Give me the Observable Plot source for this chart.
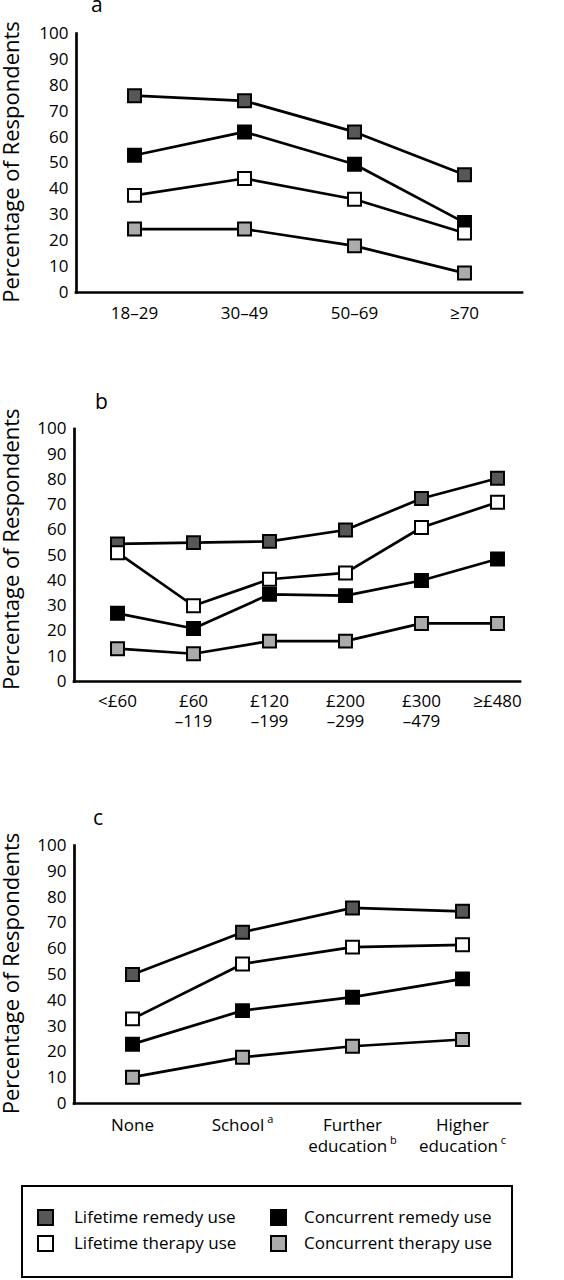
<!DOCTYPE html>
<html><head><meta charset="utf-8">
<script src="https://cdn.jsdelivr.net/npm/d3@7"></script>
<script src="https://cdn.jsdelivr.net/npm/@observablehq/plot@0.6"></script>
<style>
body{margin:0;background:#fff;font-family:"Open Sans",sans-serif;color:#000;}
#root{position:relative;width:564px;height:1280px;overflow:hidden;background:#fff;}
.panel{position:absolute;left:0;}
.letter{position:absolute;font-size:21px;line-height:21px;}
#legend{position:absolute;left:21px;top:1185px;width:488px;height:89px;border:2px solid #000;}
.item{position:absolute;font-size:17px;line-height:17px;white-space:nowrap;}
.sw{position:absolute;width:13px;height:13px;border:2px solid #000;}
</style></head><body><div id="root"></div>
<script>
// ---- data ----
const seriesNames = ["Lifetime remedy use", "Concurrent remedy use", "Lifetime therapy use", "Concurrent therapy use"];
const seriesColors = ["#575757", "#000000", "#ffffff", "#ababab"];

// panel a: age
const ageGroups = ["18–29", "30–49", "50–69", "≥70"];
const ageLifetimeRemedy = [76, 74, 62, 45.5];
const ageConcurrentRemedy = [53, 62, 49.5, 27];
const ageLifetimeTherapy = [37.5, 44, 36, 23];
const ageConcurrentTherapy = [24.5, 24.5, 18, 7.5];

// panel b: income
const incomeGroups = ["<£60", "£60\n–119", "£120\n–199", "£200\n–299", "£300\n–479", "≥£480"];
const incLifetimeRemedy = [54.5, 55, 55.5, 60, 72.5, 80.5];
const incConcurrentRemedy = [27, 21, 34.5, 34, 40, 48.5];
const incLifetimeTherapy = [51, 30, 40.5, 43, 61, 71];
const incConcurrentTherapy = [13, 11, 16, 16, 23, 23];

// panel c: education
const eduGroups = ["None", "School^a", "Further\neducation^b", "Higher\neducation^c"];
const eduLifetimeRemedy = [50, 66.4, 75.8, 74.5];
const eduConcurrentRemedy = [23, 36, 41.2, 48.3];
const eduLifetimeTherapy = [32.8, 54.1, 60.6, 61.5];
const eduConcurrentTherapy = [10.2, 17.9, 22.2, 24.8];

const yTicks = [0, 10, 20, 30, 40, 50, 60, 70, 80, 90, 100];
const yLabel = "Percentage of Respondents";

const root = document.getElementById("root");
const ns = "http://www.w3.org/2000/svg";

function panel(cats, series, o) {
  const rows = [];
  series.forEach((vals, s) => vals.forEach((v, i) => rows.push({cat: cats[i], series: seriesNames[s], value: v})));
  const plot = Plot.plot({
    width: 564, height: o.height,
    marginTop: o.marginTop, marginBottom: o.marginBottom,
    marginLeft: o.marginLeft, marginRight: o.marginRight,
    style: {fontFamily: '"Open Sans", sans-serif', fontSize: "17px", color: "#000", background: "transparent", overflow: "visible"},
    x: {type: "point", domain: cats, range: o.xRange, padding: 0},
    y: {domain: [0, 100]},
    color: {domain: seriesNames, range: seriesColors},
    marks: [
      Plot.axisY({ticks: yTicks, tickSize: 0, tickPadding: 8, label: null, fontSize: 17}),
      Plot.axisX({tickSize: 0, tickPadding: 12, label: null, fontSize: 17, lineHeight: o.lineHeight}),
      Plot.text([yLabel], {text: d => d, frameAnchor: "left", textAnchor: "middle", lineAnchor: "middle", rotate: -90, dx: 11.5 - o.marginLeft, dy: o.labelDy, fontSize: 22}),
      Plot.ruleY([0], {strokeWidth: 2.7, strokeLinecap: "square"}),
      Plot.frame({anchor: "left", strokeWidth: 2.7, strokeLinecap: "square"}),
      Plot.line(rows, {x: "cat", y: "value", z: "series", stroke: "#000", strokeWidth: 2.7}),
      Plot.dot(rows, {x: "cat", y: "value", symbol: "square", r: 7.3, fill: "series", stroke: "#000", strokeWidth: 2})
    ]
  });
  // superscripts
  plot.querySelectorAll("text, tspan").forEach(el => {
    if (el.children.length === 0 && el.textContent.includes("^")) {
      const [base, sup] = el.textContent.split("^");
      el.textContent = base;
      const t = document.createElementNS(ns, "tspan");
      t.setAttribute("dy", "-0.7em");
      t.setAttribute("dx", "3");
      t.setAttribute("font-size", "11");
      t.textContent = sup;
      el.appendChild(t);
    }
  });
  const div = document.createElement("div");
  div.className = "panel";
  div.style.top = o.top + "px";
  div.appendChild(plot);
  root.appendChild(div);
}

panel(ageGroups, [ageLifetimeRemedy, ageConcurrentRemedy, ageLifetimeTherapy, ageConcurrentTherapy],
  {top: 0, height: 340, marginTop: 33, marginBottom: 48, marginLeft: 76, marginRight: 42, xRange: [133, 464], lineHeight: 1.2, labelDy: -1});
panel(incomeGroups, [incLifetimeRemedy, incConcurrentRemedy, incLifetimeTherapy, incConcurrentTherapy],
  {top: 330, height: 420, marginTop: 98.5, marginBottom: 69, marginLeft: 74, marginRight: 44, xRange: [116.7, 497.3], lineHeight: 1.15, labelDy: -6});
panel(eduGroups, [eduLifetimeRemedy, eduConcurrentRemedy, eduLifetimeTherapy, eduConcurrentTherapy],
  {top: 790, height: 370, marginTop: 55, marginBottom: 57, marginLeft: 74, marginRight: 44, xRange: [131.7, 462.7], lineHeight: 1.25, labelDy: -1});

// panel letters
const letters = [["a", 91, -6], ["b", 95, 391], ["c", 93, 807]];
letters.forEach(([t, x, y]) => {
  const d = document.createElement("div");
  d.className = "letter"; d.textContent = t;
  d.style.left = x + "px"; d.style.top = y + "px";
  root.appendChild(d);
});

// legend
const legend = document.createElement("div");
legend.id = "legend";
root.appendChild(legend);
const legendOrder = [0, 2, 1, 3];
legendOrder.forEach((s, k) => {
  const col = Math.floor(k / 2), row = k % 2;
  const sx = col === 0 ? 14 : 247, tx = col === 0 ? 51 : 281;
  const y = row === 0 ? 22 : 48;
  const sw = document.createElement("div");
  sw.className = "sw";
  sw.style.left = sx + "px"; sw.style.top = y + "px";
  sw.style.background = seriesColors[s];
  legend.appendChild(sw);
  const it = document.createElement("div");
  it.className = "item";
  it.textContent = seriesNames[s];
  it.style.left = tx + "px"; it.style.top = (y - 1) + "px";
  legend.appendChild(it);
});
</script>
</body></html>
